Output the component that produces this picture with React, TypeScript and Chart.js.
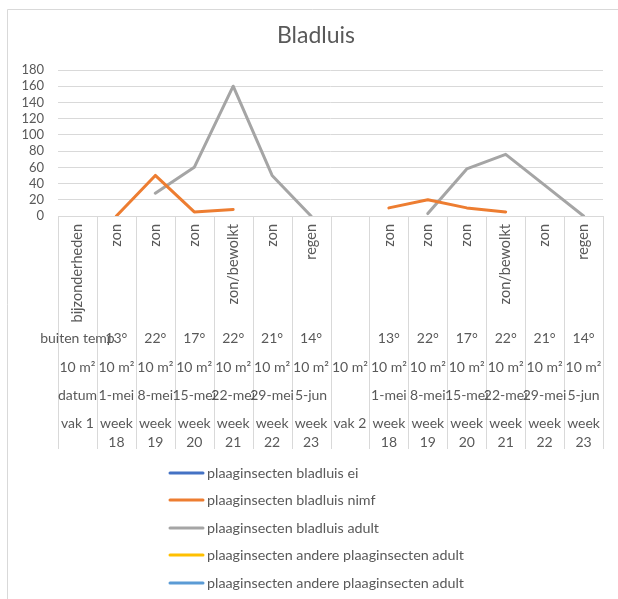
import React, { useEffect, useRef } from "react";
import { Chart, registerables } from "chart.js";

Chart.register(...registerables);

const categories = [
  "vak 1", "week 18", "week 19", "week 20", "week 21", "week 22", "week 23",
  "vak 2", "week 18", "week 19", "week 20", "week 21", "week 22", "week 23",
];
const weather = [
  "bijzonderheden", "zon", "zon", "zon", "zon/bewolkt", "zon", "regen",
  "", "zon", "zon", "zon", "zon/bewolkt", "zon", "regen",
];
const temps = [
  "buiten temp", "13°", "22°", "17°", "22°", "21°", "14°",
  "", "13°", "22°", "17°", "22°", "21°", "14°",
];
const areas = [
  "10 m²", "10 m²", "10 m²", "10 m²", "10 m²", "10 m²", "10 m²",
  "10 m²", "10 m²", "10 m²", "10 m²", "10 m²", "10 m²", "10 m²",
];
const dates = [
  "datum", "1-mei", "8-mei", "15-mei", "22-mei", "29-mei", "5-jun",
  "", "1-mei", "8-mei", "15-mei", "22-mei", "29-mei", "5-jun",
];
const weekLines = [
  ["vak 1"], ["week", "18"], ["week", "19"], ["week", "20"], ["week", "21"], ["week", "22"], ["week", "23"],
  ["vak 2"], ["week", "18"], ["week", "19"], ["week", "20"], ["week", "21"], ["week", "22"], ["week", "23"],
];

const bladluisEi: (number | null)[] = [null, null, null, null, null, null, null, null, null, null, null, null, null, null];
const bladluisNimf: (number | null)[] = [null, 0, 50, 5, 8, null, null, null, 10, 20, 10, 5, null, null];
const bladluisAdult: (number | null)[] = [null, null, 28, 60, 160, 50, 0, null, null, 3, 58, 76, 38, 0];
const andereAdult1: (number | null)[] = [null, null, null, null, null, null, null, null, null, null, null, null, null, null];
const andereAdult2: (number | null)[] = [null, null, null, null, null, null, null, null, null, null, null, null, null, null];

const seriesNames = [
  "plaaginsecten bladluis ei",
  "plaaginsecten bladluis nimf",
  "plaaginsecten bladluis adult",
  "plaaginsecten andere plaaginsecten adult",
  "plaaginsecten andere plaaginsecten adult",
];
const seriesColors = ["#4472C4", "#ED7D31", "#A5A5A5", "#FFC000", "#5B9BD5"];
const yMin = 0;
const yMax = 180;
const yStep = 20;

const FONT = "Lato, 'Open Sans', sans-serif";
const TEXT = "#595959";
const GRID = "#D9D9D9";

const tablePlugin = {
  id: "excelTable",
  beforeDraw(chart: any) {
    const ctx = chart.ctx;
    ctx.save();
    ctx.fillStyle = "#FFFFFF";
    ctx.fillRect(0, 0, chart.width, chart.height);
    ctx.strokeStyle = "#D9D9D9";
    ctx.lineWidth = 1;
    ctx.beginPath();
    ctx.moveTo(7.5, chart.height);
    ctx.lineTo(7.5, 9.5);
    ctx.lineTo(chart.width, 9.5);
    ctx.stroke();
    ctx.restore();
  },
  afterDraw(chart: any) {
    const ctx = chart.ctx;
    const xs = chart.scales.x;
    const area = chart.chartArea;
    const n = categories.length;
    const colW = (area.right - area.left) / n;
    const top = area.bottom;
    const bottom = 449;
    ctx.save();
    ctx.strokeStyle = GRID;
    ctx.lineWidth = 1;
    ctx.beginPath();
    for (let i = 0; i <= n; i++) {
      const bx = Math.round(area.left + i * colW) + 0.5;
      ctx.moveTo(bx, top);
      ctx.lineTo(bx, bottom);
    }
    ctx.stroke();

    ctx.fillStyle = TEXT;
    for (let i = 0; i < n; i++) {
      const cx = xs.getPixelForValue(i);
      if (weather[i]) {
        ctx.save();
        ctx.font = `14.5px ${FONT}`;
        ctx.translate(cx, 224);
        ctx.rotate(-Math.PI / 2);
        ctx.textAlign = "right";
        ctx.textBaseline = "middle";
        ctx.fillText(weather[i], 0, 0);
        ctx.restore();
      }
      ctx.font = `14px ${FONT}`;
      ctx.textAlign = "center";
      ctx.textBaseline = "middle";
      if (temps[i]) ctx.fillText(temps[i], cx, 338);
      if (areas[i]) ctx.fillText(areas[i], cx, 367);
      if (dates[i]) ctx.fillText(dates[i], cx, 395);
      const wl = weekLines[i];
      wl.forEach((t, k) => ctx.fillText(t, cx, 423 + k * 19));
    }

    ctx.font = `23px ${FONT}`;
    ctx.textAlign = "center";
    ctx.textBaseline = "middle";
    ctx.fillText("Bladluis", 316, 36);

    ctx.font = `14.3px ${FONT}`;
    ctx.textAlign = "left";
    ctx.textBaseline = "middle";
    const legendY = [473, 500, 528, 555, 583];
    seriesNames.forEach((name, k) => {
      const y = legendY[k];
      ctx.strokeStyle = seriesColors[k];
      ctx.lineWidth = 3;
      ctx.lineCap = "round";
      ctx.beginPath();
      ctx.moveTo(170, y);
      ctx.lineTo(203, y);
      ctx.stroke();
      ctx.fillStyle = TEXT;
      ctx.fillText(name, 207, y);
    });
    ctx.restore();
  },
};

export default function App() {
  const ref = useRef<HTMLCanvasElement | null>(null);
  useEffect(() => {
    document.body.style.margin = "0";
    const canvas = ref.current;
    if (!canvas) return;
    const seriesData = [bladluisEi, bladluisNimf, bladluisAdult, andereAdult1, andereAdult2];
    const chart = new Chart(canvas, {
      type: "line",
      data: {
        labels: categories,
        datasets: seriesNames.map((name, k) => ({
          label: name,
          data: seriesData[k],
          borderColor: seriesColors[k],
          backgroundColor: seriesColors[k],
          borderWidth: 3,
          pointRadius: 0,
          pointHoverRadius: 0,
          tension: 0,
          spanGaps: false,
          borderCapStyle: "round" as const,
          borderJoinStyle: "round" as const,
        })),
      },
      options: {
        responsive: false,
        animation: false,
        layout: { padding: { left: 0, right: 15, top: 70, bottom: 0 } },
        plugins: {
          legend: { display: false },
          title: { display: false },
          tooltip: { enabled: false },
        },
        scales: {
          x: {
            type: "category",
            offset: true,
            grid: { display: false },
            border: { display: false },
            ticks: { display: false },
            afterFit: (axis: any) => {
              axis.height = 599 - 216;
            },
          },
          y: {
            min: yMin,
            max: yMax,
            grid: { color: GRID, drawTicks: false },
            border: { display: false },
            ticks: {
              stepSize: yStep,
              autoSkip: false,
              color: TEXT,
              font: { family: FONT, size: 13 },
              padding: 14,
            },
            afterFit: (axis: any) => {
              axis.width = 58;
            },
          },
        },
      },
      plugins: [tablePlugin],
    });
    return () => chart.destroy();
  }, []);
  return <canvas ref={ref} width={618} height={599} style={{ display: "block" }} />;
}
